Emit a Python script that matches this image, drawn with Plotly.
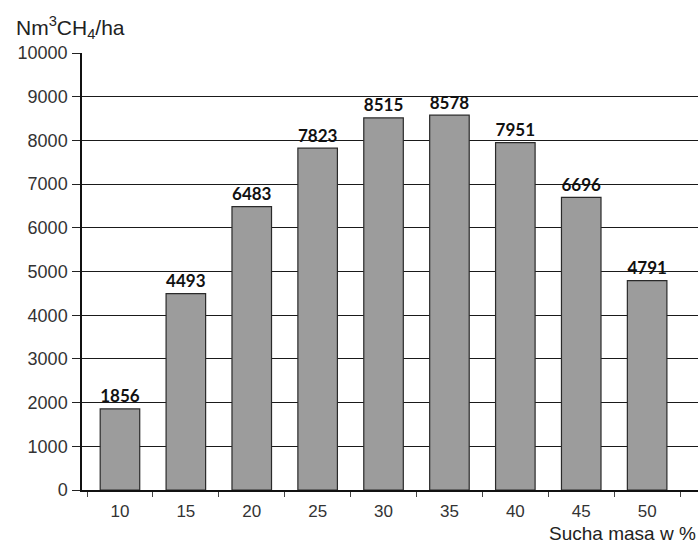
import plotly.graph_objects as go

categories = [10, 15, 20, 25, 30, 35, 40, 45, 50]
values = [1856, 4493, 6483, 7823, 8515, 8578, 7951, 6696, 4791]
y_ticks = [0, 1000, 2000, 3000, 4000, 5000, 6000, 7000, 8000, 9000, 10000]

fig = go.Figure()
fig.add_trace(go.Bar(
    x=categories, y=values,
    width=3.0,
    marker=dict(color="#9c9c9c", line=dict(color="#2a2a2a", width=1.2)),
    text=[str(v) for v in values],
    textposition="outside",
    textfont=dict(family="Lato", size=19, color="#111"),
    texttemplate="<b>%{text}</b>",
    cliponaxis=False,
))

boundaries = [c - 2.5 for c in categories] + [categories[-1] + 2.5]

fig.update_layout(
    width=699, height=545,
    margin=dict(l=82, r=1, t=53, b=55),
    plot_bgcolor="white", paper_bgcolor="white",
    showlegend=False,
    font=dict(family="Liberation Sans", size=18, color="#333"),
    xaxis=dict(
        range=[7.12, 53.86],
        tickvals=categories,
        ticktext=[str(c) for c in categories],
        ticks="", ticklabelstandoff=5,
        showgrid=False, zeroline=False,
        showline=True, linecolor="#111", linewidth=1.5,
        minor=dict(tickvals=boundaries, ticks="outside", ticklen=5, tickcolor="#444"),
        tickfont=dict(family="Liberation Sans", size=17, color="#333"),
    ),
    yaxis=dict(
        range=[0, 10000],
        tickvals=y_ticks,
        ticktext=[str(v) for v in y_ticks],
        ticks="outside", ticklen=8, tickcolor="#222",
        ticklabelstandoff=1,
        showgrid=True, gridcolor="#1a1a1a", gridwidth=1,
        zeroline=False,
        showline=True, linecolor="#111", linewidth=1.5,
        tickfont=dict(family="Liberation Sans", size=18, color="#333"),
    ),
    annotations=[
        dict(text="Nm<sup>3</sup>CH<sub>4</sub>/ha", xref="paper", yref="paper",
             x=-0.11, y=1.02, xanchor="left", yanchor="bottom", showarrow=False,
             font=dict(family="Liberation Sans", size=21, color="#222")),
        dict(text="Sucha masa w %", xref="paper", yref="paper",
             x=1.0, y=-0.072, xanchor="right", yanchor="top", showarrow=False,
             font=dict(family="Liberation Sans", size=19, color="#222")),
    ],
)

fig.write_html("out.html")
